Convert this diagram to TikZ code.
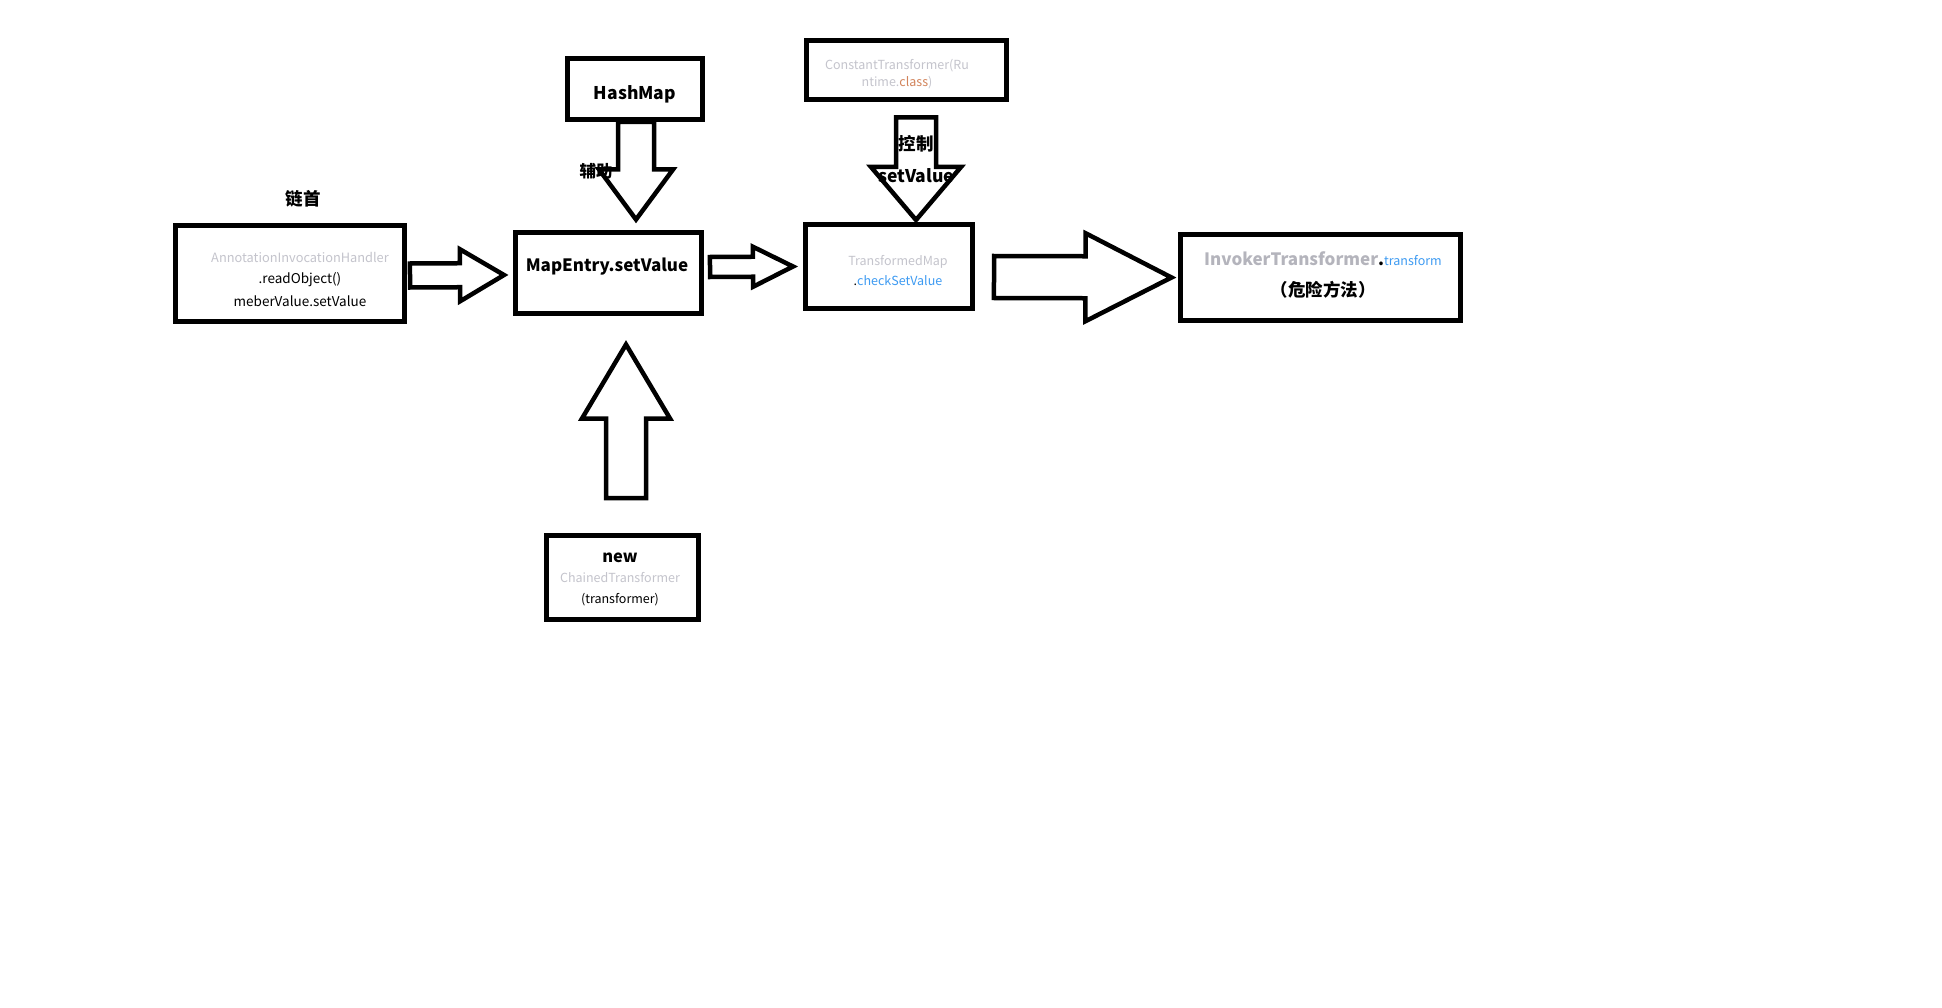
\documentclass[tikz,border=0pt]{standalone}
\usepackage{fontspec}
\setmainfont{Noto Sans CJK SC}
\usepackage{tikz}
\usetikzlibrary{calc}

\definecolor{fadedgray}{HTML}{C4C4CC}
\definecolor{midgray}{HTML}{B4B4BC}
\definecolor{linkblue}{HTML}{3E9BF2}
\definecolor{kwdorange}{HTML}{D2835A}

\newcommand\pxfont[1]{\fontsize{#1}{#1}\selectfont}

% hollow block arrow: tail, tip, shaft half width, head half width, head length
\newcommand\fatarrow[5]{%
  \coordinate (fa-h) at ($(#2)!#5!(#1)$);
  \draw[blockarrow] ($(#1)!#3!90:(#2)$) -- ($(fa-h)!#3!90:(#2)$) -- ($(fa-h)!#4!90:(#2)$) -- (#2)
    -- ($(fa-h)!#4!-90:(#2)$) -- ($(fa-h)!#3!-90:(#2)$) -- ($(#1)!#3!-90:(#2)$) -- cycle;}

\begin{document}
\begin{tikzpicture}[
  x=1pt, y=-1pt,
  box/.style={draw, line width=5pt, inner sep=0pt},
  blockarrow/.style={draw, line width=4.5pt},
  lbl/.style={inner sep=0pt, anchor=mid, yshift=-4pt},
]
\fill[white] (0,0) rectangle (1942,1008);
\useasboundingbox (0,0) rectangle (1942,1008);

% boxes
\node[box, minimum width=229pt, minimum height=96pt] (handler) at (290,273.5) {};
\node[box, minimum width=186pt, minimum height=80pt] (mapentry) at (608.5,273) {};
\node[box, minimum width=135pt, minimum height=61pt] (hashmap) at (635,89) {};
\node[box, minimum width=200pt, minimum height=59pt] (constant) at (906.5,70) {};
\node[box, minimum width=167pt, minimum height=84pt] (transformed) at (889,266.5) {};
\node[box, minimum width=280pt, minimum height=86pt] (invoker) at (1320.5,277.5) {};
\node[box, minimum width=152pt, minimum height=84pt] (chained) at (622.5,577.5) {};

% block arrows
\coordinate (ab-tail) at ([xshift=3pt,yshift=-2pt]handler.east);
\coordinate (ab-tip) at ([xshift=-9pt,yshift=-2pt]mapentry.west);
\fatarrow{ab-tail}{ab-tip}{12pt}{26pt}{44pt}

\coordinate (bt-tail) at ([xshift=6pt,yshift=6pt]mapentry.east);
\coordinate (bt-tip) at ([xshift=-10pt]transformed.west);
\fatarrow{bt-tail}{bt-tip}{10pt}{20pt}{40pt}

\coordinate (ti-tail) at ([xshift=19pt,yshift=-10.5pt]transformed.east);
\coordinate (ti-tip) at ([xshift=-6.5pt]invoker.west);
\fatarrow{ti-tail}{ti-tip}{21pt}{44pt}{86pt}

\coordinate (hm-tail) at ([xshift=1pt]hashmap.south);
\coordinate (hm-tip) at ($(hm-tail |- mapentry.north)+(0pt,11pt)$);
\fatarrow{hm-tail}{hm-tip}{18pt}{37pt}{50pt}

\coordinate (ct-tail) at ([xshift=9.5pt,yshift=-15.5pt]constant.south);
\coordinate (ct-tip) at ($(ct-tail |- transformed.north)+(0pt,2pt)$);
\fatarrow{ct-tail}{ct-tip}{20pt}{45pt}{53pt}

\coordinate (cm-tail) at ([xshift=3.5pt,yshift=35pt]chained.north);
\coordinate (cm-tip) at ($(cm-tail |- mapentry.south)+(0pt,-29pt)$);
\fatarrow{cm-tail}{cm-tip}{20pt}{44pt}{74pt}

% labels
\node[lbl, font=\pxfont{17.5}\bfseries] (head-lbl) at (303,199) {链首};
\node[lbl, font=\pxfont{12.8}, text=fadedgray] (handler-l1) at (300,256) {AnnotationInvocationHandler};
\node[lbl, font=\pxfont{13.5}] (handler-l2) at (300,277) {.readObject()};
\node[lbl, font=\pxfont{13.5}] (handler-l3) at (300,300) {meberValue.setValue};

\node[lbl, font=\pxfont{17}\bfseries] (mapentry-lbl) at (607,265) {MapEntry.setValue};
\node[lbl, font=\pxfont{17.5}\bfseries] (hashmap-lbl) at (635,93) {HashMap};
\node[lbl, font=\pxfont{16.5}\bfseries] (assist-lbl) at (596,171) {辅助};

\node[lbl, font=\pxfont{12.5}, text=fadedgray] (constant-l1) at (897,63) {ConstantTransformer(Ru};
\node[lbl, font=\pxfont{12.5}, text=fadedgray] (constant-l2) at (897,80) {ntime.\textcolor{kwdorange}{class})};
\node[lbl, font=\pxfont{17.5}\bfseries] (control-lbl) at (916,144) {控制};
\node[lbl, font=\pxfont{17.5}\bfseries] (setvalue-lbl) at (916,176) {setValue};

\node[lbl, font=\pxfont{12.5}, text=fadedgray] (transformed-l1) at (898,259) {TransformedMap};
\node[lbl, font=\pxfont{12.5}, text=linkblue] (transformed-l2) at (898,279) {\textcolor{black}{.}checkSetValue};

\node[lbl, font=\pxfont{17}\bfseries] (invoker-l1) at (1323,259)
  {\textcolor{midgray}{InvokerTransformer}.{\mdseries\pxfont{12.5}\textcolor{linkblue}{transform}}};
\node[lbl, font=\pxfont{17.5}\bfseries] (invoker-l2) at (1323,290) {（危险方法）};

\node[lbl, font=\pxfont{16.5}\bfseries] (chained-l1) at (620,556) {new};
\node[lbl, font=\pxfont{12.5}, text=fadedgray] (chained-l2) at (620,576) {ChainedTransformer};
\node[lbl, font=\pxfont{12.5}] (chained-l3) at (620,597) {(transformer)};

\end{tikzpicture}
\end{document}
